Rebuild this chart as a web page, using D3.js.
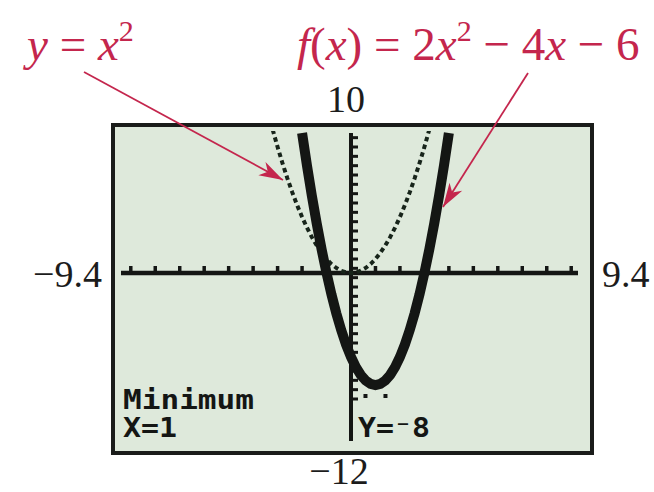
<!DOCTYPE html>
<html>
<head>
<meta charset="utf-8">
<script src="https://cdn.jsdelivr.net/npm/d3@7"></script>
<style>
  html, body { margin: 0; padding: 0; background: #fff; }
  svg { display: block; }
</style>
</head>
<body>
<svg id="chart" width="654" height="492"></svg>
<script>
// Graphing-calculator window
const xWindow = [-9.4, 9.4];
const yWindow = [-12, 10];
const windowLabels = { xMin: "\u22129.4", xMax: "9.4", yMin: "\u221212", yMax: "10" };

// Quadratic coefficients [a, b, c] for a·x² + b·x + c
const thinCoeffs = [1, 0, 0];      // y = x²
const boldCoeffs = [2, -4, -6];    // f(x) = 2x² − 4x − 6

// Tick marks along the axes
const xTicks = [-9, -8, -7, -6, -5, -4, -3, -2, -1, 1, 2, 3, 4, 5, 6, 7, 8, 9];
const yTickStep = 2 / 3;

// Result readout of the minimum
const minPoint = { x: 1, y: -8 };
const readout = ["Minimum", "X=1", "Y=\u207B8"];

const red = "#c4264d";
const ink = "#141614";

const svg = d3.select("#chart");

const frame = { x: 113, y: 125, w: 479, h: 328 };
const x = d3.scaleLinear().domain(xWindow).range([121, 581]);
const y = d3.scaleLinear().domain(yWindow).range([441, 133]);

// Screen
svg.append("rect")
  .attr("x", frame.x).attr("y", frame.y)
  .attr("width", frame.w).attr("height", frame.h)
  .attr("fill", "#dee9db")
  .attr("stroke", "#1a1c1a").attr("stroke-width", 4);

svg.append("clipPath").attr("id", "plotClip")
  .append("rect")
  .attr("x", frame.x + 3).attr("y", 131)
  .attr("width", frame.w - 6).attr("height", frame.h - 9);

const plot = svg.append("g").attr("clip-path", "url(#plotClip)");

// x axis
plot.append("line")
  .attr("x1", x(xWindow[0])).attr("x2", x(xWindow[1]) - 3)
  .attr("y1", y(0)).attr("y2", y(0))
  .attr("stroke", ink).attr("stroke-width", 4.5);
plot.selectAll(".xt").data(xTicks).enter().append("line")
  .attr("x1", d => x(d)).attr("x2", d => x(d))
  .attr("y1", y(0)).attr("y2", y(0) - 7)
  .attr("stroke", ink).attr("stroke-width", 3.5);

// y axis
plot.append("line")
  .attr("x1", x(0)).attr("x2", x(0))
  .attr("y1", y(yWindow[1])).attr("y2", y(yWindow[0]))
  .attr("stroke", ink).attr("stroke-width", 4);
const yTicks = d3.range(yWindow[1] - yTickStep / 2, -9.6, -yTickStep)
  .filter(v => Math.abs(v) > 0.2);
plot.selectAll(".yt").data(yTicks).enter().append("line")
  .attr("x1", x(0)).attr("x2", x(0) + 7)
  .attr("y1", d => y(d)).attr("y2", d => y(d))
  .attr("stroke", ink).attr("stroke-width", 3);

// Curves sampled at each screen column
const columns = d3.range(0, 95).map(i => xWindow[0] + i * 0.2);
const quad = c => v => c[0] * v * v + c[1] * v + c[2];
const line = d3.line().x(d => x(d[0])).y(d => y(d[1]));

const fThin = quad(thinCoeffs);
const fBold = quad(boldCoeffs);
const thinPts = columns.map(v => [v, fThin(v)]).filter(d => d[1] < 11.5);
const boldPts = columns.map(v => [v, fBold(v)]).filter(d => d[1] < 11.5);

plot.append("path")
  .attr("d", line(thinPts))
  .attr("fill", "none")
  .attr("stroke", "#17241a").attr("stroke-width", 4)
  .attr("stroke-dasharray", "4.5 3.5");

plot.append("path")
  .attr("d", line(boldPts))
  .attr("fill", "none")
  .attr("stroke", ink).attr("stroke-width", 10)
  .attr("stroke-linejoin", "miter");

// Trace cursor below the minimum
[-1, 1].forEach(s => {
  plot.append("rect")
    .attr("x", x(minPoint.x) + s * 10 - 2).attr("y", y(minPoint.y) + 9)
    .attr("width", 4).attr("height", 4).attr("fill", ink);
});

// Readout text
const mono = "'DejaVu Sans Mono', 'Liberation Mono', monospace";
const readText = (t, tx, ty, len) => svg.append("text")
  .attr("x", tx).attr("y", ty)
  .attr("font-family", mono).attr("font-weight", "bold")
  .attr("font-size", 27)
  .attr("textLength", len).attr("lengthAdjust", "spacingAndGlyphs")
  .attr("fill", ink).text(t);
readText(readout[0], 123, 409, 131);
readText(readout[1], 123, 437, 54);
readText(readout[2], 358, 437, 72);

// Window labels
const serif = "'Liberation Serif', 'Times New Roman', serif";
const lab = (t, tx, ty, anchor) => svg.append("text")
  .attr("x", tx).attr("y", ty).attr("text-anchor", anchor)
  .attr("font-family", serif).attr("font-size", 38)
  .attr("fill", "#1c1c1c").text(t);
lab(windowLabels.yMax, 346, 112, "middle");
lab(windowLabels.yMin, 339, 484, "middle");
lab(windowLabels.xMin, 102, 287, "end");
lab(windowLabels.xMax, 602, 287, "start");

// Function labels
const fsz = 47;
const supSize = fsz * 0.64;
const supShift = 19;
const t1 = svg.append("text").attr("x", 27).attr("y", 60)
  .attr("font-family", serif).attr("font-size", fsz).attr("fill", red);
t1.append("tspan").attr("font-style", "italic").text("y");
t1.append("tspan").text(" = ");
t1.append("tspan").attr("font-style", "italic").text("x");
t1.append("tspan").attr("font-size", supSize).attr("dy", -supShift).text("2");

const t2 = svg.append("text").attr("x", 297).attr("y", 60)
  .attr("font-family", serif).attr("font-size", fsz).attr("fill", red);
t2.append("tspan").attr("font-style", "italic").text("f");
t2.append("tspan").text("(");
t2.append("tspan").attr("font-style", "italic").text("x");
t2.append("tspan").text(") = 2");
t2.append("tspan").attr("font-style", "italic").text("x");
t2.append("tspan").attr("font-size", supSize).attr("dy", -supShift).text("2");
t2.append("tspan").attr("dy", supShift).text(" \u2212 4");
t2.append("tspan").attr("font-style", "italic").text("x");
t2.append("tspan").text(" \u2212 6");

// Pointer arrows
function arrow(from, to) {
  svg.append("line")
    .attr("x1", from[0]).attr("y1", from[1])
    .attr("x2", to[0]).attr("y2", to[1])
    .attr("stroke", red).attr("stroke-width", 1.8);
  const dx = to[0] - from[0], dy = to[1] - from[1];
  const len = Math.hypot(dx, dy);
  const ux = dx / len, uy = dy / len;
  const nx = -uy, ny = ux;
  const L = 24, W = 7.5;
  const p = [
    [to[0], to[1]],
    [to[0] - L * ux + W * nx, to[1] - L * uy + W * ny],
    [to[0] - 0.72 * L * ux, to[1] - 0.72 * L * uy],
    [to[0] - L * ux - W * nx, to[1] - L * uy - W * ny]
  ];
  svg.append("path").attr("d", "M" + p.join("L") + "Z").attr("fill", red);
}
arrow([84, 72], [283, 180]);
arrow([528, 73], [443, 207]);
</script>
</body>
</html>
